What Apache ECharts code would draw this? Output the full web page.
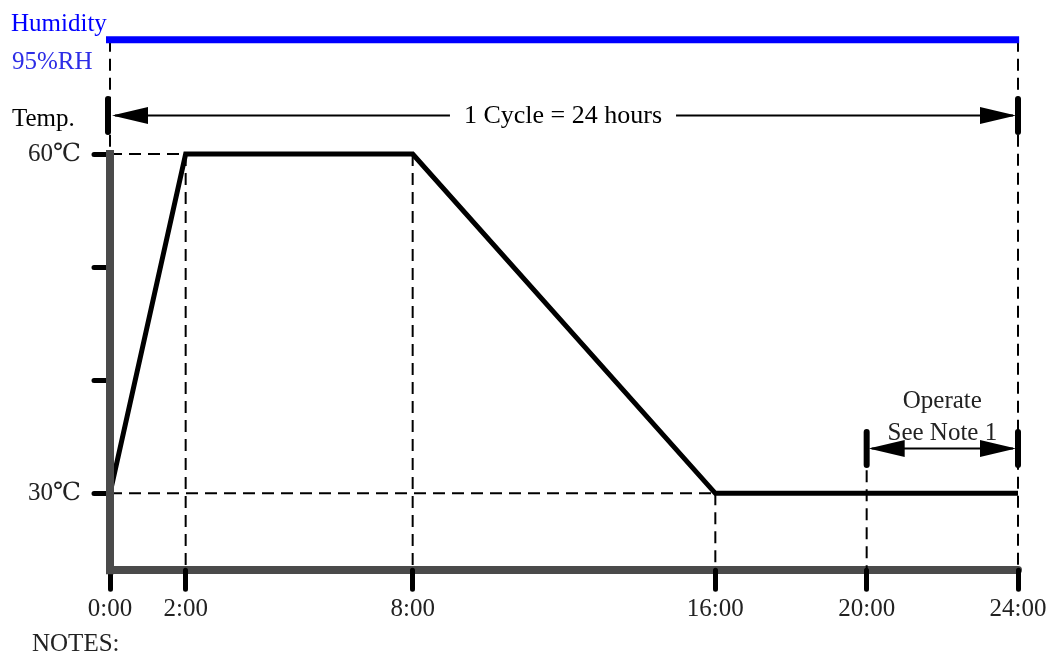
<!DOCTYPE html>
<html>
<head>
<meta charset="utf-8">
<script src="https://cdn.jsdelivr.net/npm/echarts@6/dist/echarts.min.js"></script>
<style>
html,body{margin:0;padding:0;background:#fff;}
#c{width:1049px;height:657px;}
</style>
</head>
<body>
<div id="c"></div>
<script>
// ---- data ----
const hours = [0, 2, 8, 16, 24];
const temps = [30, 60, 60, 30, 30];
const xTickHours = [0, 2, 8, 16, 20, 24];
const xTickLabels = ['0:00', '2:00', '8:00', '16:00', '20:00', '24:00'];
const yTickValues = [60, 50, 40, 30];
const yLabelValues = [60, 30];
const yLabelTexts = ['60℃', '30℃'];
const cycleSpan = [0, 24];
const cycleText = '1 Cycle = 24 hours';
const operateSpan = [20, 24];
const operateText = ['Operate', 'See Note 1'];
const humidityTexts = ['Humidity', '95%RH'];
const tempTitle = 'Temp.';
const notesText = 'NOTES:';

// ---- layout (positions in axis units / pixels) ----
const Y_MIN = 23.2, Y_MAX = 72;
const Y_HUM = 70.1, Y_CYCLE = 63.4, Y_OPER = 33.96;
const FONT = '"Liberation Serif", "DejaVu Serif", serif';

const chart = echarts.init(document.getElementById('c'));

function dashed(points) {
  return {
    type: 'line', data: points, showSymbol: false, silent: true, z: 2, clip: false,
    lineStyle: { color: '#000', width: 2, type: [12, 7] }
  };
}
const tMax = Math.max(...temps), tMin = Math.min(...temps);
const dashSeries = [
  dashed([[hours[0], tMax], [hours[1], tMax]]),
  dashed([[hours[0], tMin], [hours[3], tMin]]),
  dashed([[hours[0], Y_HUM], [hours[0], tMax]]),
  dashed([[hours[1], tMax], [hours[1], Y_MIN]]),
  dashed([[hours[2], tMax], [hours[2], Y_MIN]]),
  dashed([[hours[3], tMin], [hours[3], Y_MIN]]),
  dashed([[operateSpan[0], 35.4], [operateSpan[0], Y_MIN]]),
  dashed([[hours[4], Y_HUM], [hours[4], Y_MIN]])
];

function arrowRender(params, api) {
  const x1 = api.value(0), x2 = api.value(1), y = api.value(2);
  const p1 = api.coord([x1, y]), p2 = api.coord([x2, y]);
  const L = 38, H = 8.5, B = 16.5;
  const txt = params.dataIndex === 0 ? cycleText : '';
  const lx = p1[0] - (params.dataIndex === 0 ? 2 : 0);
  const children = [
    { type: 'line', shape: { x1: p1[0] + 5, y1: p1[1], x2: p2[0] - 5, y2: p2[1] }, style: { stroke: '#000', lineWidth: 2 } },
    { type: 'polygon', shape: { points: [[p1[0] + 2, p1[1]], [p1[0] + L, p1[1] - H], [p1[0] + L, p1[1] + H]] }, style: { fill: '#000' } },
    { type: 'polygon', shape: { points: [[p2[0] - 2, p2[1]], [p2[0] - L, p2[1] - H], [p2[0] - L, p2[1] + H]] }, style: { fill: '#000' } },
    { type: 'line', shape: { x1: lx, y1: p1[1] - B, x2: lx, y2: p1[1] + B }, style: { stroke: '#000', lineWidth: 6, lineCap: 'round' } },
    { type: 'line', shape: { x1: p2[0], y1: p2[1] - B, x2: p2[0], y2: p2[1] + B }, style: { stroke: '#000', lineWidth: 6, lineCap: 'round' } }
  ];
  if (txt) {
    const pm = api.coord([(x1 + x2) / 2, y]);
    children.push({ type: 'text', x: pm[0] - 1, y: pm[1] + 1, z2: 10,
      style: { text: txt, font: '26px ' + FONT, fill: '#000', align: 'center', verticalAlign: 'middle',
        backgroundColor: '#fff', padding: [0, 14] } });
  }
  return { type: 'group', children };
}

function textRender(params, api) {
  const p = api.coord([api.value(0), api.value(1)]);
  return { type: 'text', x: p[0], y: p[1],
    style: { text: operateText[params.dataIndex], font: '25px ' + FONT, fill: '#222', align: 'center', verticalAlign: 'middle' } };
}

const option = {
  animation: false,
  backgroundColor: '#fff',
  grid: { left: 110, right: 31, top: 18.3, bottom: 86.8, containLabel: false, outerBoundsMode: 'none' },
  xAxis: {
    type: 'value', min: 0, max: 24,
    splitLine: { show: false },
    axisLine: { show: true, onZero: false, lineStyle: { color: '#4a4a4a', width: 8 } },
    axisTick: { show: true, customValues: xTickHours, length: 19, lineStyle: { color: '#000', width: 5, cap: 'round' } },
    axisLabel: {
      show: true, customValues: xTickHours, margin: 27,
      formatter: v => xTickLabels[xTickHours.indexOf(v)] || '',
      fontFamily: FONT, fontSize: 25, color: '#222', showMinLabel: true, showMaxLabel: true
    }
  },
  yAxis: {
    type: 'value', min: Y_MIN, max: Y_MAX,
    splitLine: { show: false },
    axisLine: { show: false },
    axisTick: { show: true, customValues: yTickValues, length: 16, lineStyle: { color: '#000', width: 5, cap: 'round' } },
    axisLabel: {
      show: true, customValues: yLabelValues, margin: 29,
      formatter: v => yLabelTexts[yLabelValues.indexOf(v)] || '',
      fontFamily: FONT, fontSize: 25, color: '#222'
    }
  },
  graphic: [
    { type: 'text', left: 11, top: 12, style: { text: humidityTexts[0], font: '25px ' + FONT, fill: '#0000ff' } },
    { type: 'text', left: 12, top: 50, style: { text: humidityTexts[1], font: '25px ' + FONT, fill: '#2d2de6' } },
    { type: 'text', left: 12, top: 107, style: { text: tempTitle, font: '25px ' + FONT, fill: '#000' } },
    { type: 'text', left: 32, top: 632, style: { text: notesText, font: '25px ' + FONT, fill: '#222' } }
  ],
  series: [
    ...dashSeries,
    {
      type: 'line', data: [[-0.34, Y_HUM], [24.03, Y_HUM]], showSymbol: false, silent: true, clip: false, z: 4,
      lineStyle: { color: '#0000ff', width: 7 }
    },
    {
      type: 'line', data: hours.map((h, i) => [h, temps[i]]), showSymbol: false, silent: true, z: 5, clip: false,
      lineStyle: { color: '#000', width: 5, join: 'miter' }
    },
    {
      type: 'line', data: [[0, Y_MIN], [0, tMax]], showSymbol: false, silent: true, z: 6, clip: false,
      lineStyle: { color: '#4a4a4a', width: 8, cap: 'square' }
    },
    {
      type: 'custom', renderItem: arrowRender, clip: false, silent: true, z: 7,
      data: [[cycleSpan[0], cycleSpan[1], Y_CYCLE], [operateSpan[0], operateSpan[1], Y_OPER]]
    },
    {
      type: 'custom', renderItem: textRender, clip: false, silent: true, z: 8,
      data: [[22, 38.1], [22, 35.3]]
    }
  ]
};
chart.setOption(option);
</script>
</body>
</html>
